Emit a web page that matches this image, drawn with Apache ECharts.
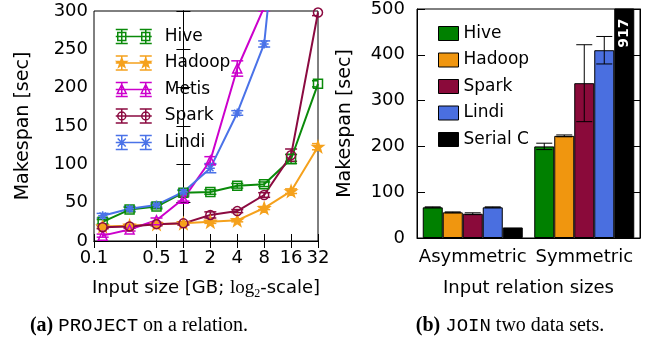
<!DOCTYPE html>
<html>
<head>
<meta charset="utf-8">
<title>Makespan</title>
<script src="https://cdn.jsdelivr.net/npm/echarts@6/dist/echarts.min.js"></script>
<style>
  html, body { margin: 0; padding: 0; background: #fff; }
</style>
</head>
<body>
<div id="box" style="width: 649px; height: 349px;"></div>
<script>
// ---- left: PROJECT, input size in GB (log2 axis) ----
var sizes = [0.125, 0.25, 0.5, 1, 2, 4, 8, 16, 32]
var hive = [25, 41, 45, 63, 64, 72, 74, 107, 205]
var hiveErr = [3, 3, 3, 3, 3, 3, 3, 6, 4]
var hadoop = [19, 20, 22, 23, 25, 27, 43, 65, 123]
var hadoopErr = [2, 2, 2, 2, 2, 2, 2, 3, 4]
var metis = [7, 15, 27, 55, 105, 225, 305]
var metisErr = [2, 2, 3, 3, 5, 10, 5]
var spark = [18, 19, 22, 23, 34, 39, 60, 112, 298]
var sparkErr = [2, 2, 2, 2, 4, 2, 3, 8, 4]
var lindi = [33, 42, 47, 64, 95, 167, 257, 600]
var lindiErr = [3, 3, 3, 3, 6, 3, 4, 10]
var xTickLabels = [0.1, 0.5, 1, 2, 4, 8, 16, 32]

// ---- right: JOIN ----
var joinCats = ['Asymmetric', 'Symmetric']
var joinNames = ['Hive', 'Hadoop', 'Spark', 'Lindi', 'Serial C']
var joinVals = [
  [67, 200],
  [56, 223],
  [53, 338],
  [67, 410],
  [23, 917]
]
var joinErr = [
  [1, 7],
  [1, 2],
  [2, 84],
  [1, 30],
  [0, 0]
]

var FONT = 'DejaVu Sans'
var colors = { Hive: '#0a8a0a', Hadoop: '#f5a11c', Metis: '#cc00cc', Spark: '#8b0a40', Lindi: '#4a72e8' }
var barColors = ['#008000', '#f0960f', '#8a0a3a', '#4a6fe0', '#000000']

var xTickPos = xTickLabels.map(function (v) { return Math.log2(v) })

// marker shapes
var STAR = 'path://M0,-10L2.35,-3.24L9.51,-3.09L3.8,1.24L5.88,8.09L0,4L-5.88,8.09L-3.8,1.24L-9.51,-3.09L-2.35,-3.24Z'
var ASTER = 'path://M0,-5L0,5M-5,0L5,0M-3.5,-3.5L3.5,3.5M-3.5,3.5L3.5,-3.5'

// legend icons: line with two error-barred markers
var ICON_BASE = 'M0,8L36,8M6,1L6,15M0,1L12,1M0,15L12,15M30,1L30,15M24,1L36,1M24,15L36,15'
var icons = {
  Hive: 'path://' + ICON_BASE + 'M2,4L10,4L10,12L2,12ZM26,4L34,4L34,12L26,12Z',
  Hadoop: 'path://' + ICON_BASE + 'M6,3L7.2,6.4L10.8,6.5L7.9,8.6L9,12L6,10L3,12L4.1,8.6L1.2,6.5L4.8,6.4ZM30,3L31.2,6.4L34.8,6.5L31.9,8.6L33,12L30,10L27,12L28.1,8.6L25.2,6.5L28.8,6.4Z',
  Metis: 'path://' + ICON_BASE + 'M6,3L10.5,12L1.5,12ZM30,3L34.5,12L25.5,12Z',
  Spark: 'path://' + ICON_BASE + 'M10,8A4,4 0 1,1 2,8A4,4 0 1,1 10,8ZM34,8A4,4 0 1,1 26,8A4,4 0 1,1 34,8Z',
  Lindi: 'path://' + ICON_BASE + 'M2,4L10,12M2,12L10,4M26,4L34,12M26,12L34,4'
}

function pts(vals) {
  return vals.map(function (v, i) { return [Math.log2(sizes[i]), v] })
}
function errPts(vals, errs) {
  return vals.map(function (v, i) { return [Math.log2(sizes[i]), v, errs[i]] })
}

function lineSeries(name, vals, symbol, filled) {
  var c = colors[name]
  return {
    name: name,
    type: 'line',
    xAxisIndex: 0,
    yAxisIndex: 0,
    data: pts(vals),
    symbol: symbol,
    symbolSize: symbol === STAR ? 11 : 9,
    lineStyle: { color: c, width: 2 },
    itemStyle: { color: filled ? c : 'rgba(0,0,0,0)', borderColor: c, borderWidth: 1.5 },
    emphasis: { disabled: true },
    z: 3
  }
}

function errSeries(name, vals, errs) {
  var c = colors[name]
  return {
    type: 'custom',
    xAxisIndex: 0,
    yAxisIndex: 0,
    clip: true,
    silent: true,
    z: 3,
    data: errPts(vals, errs),
    renderItem: function (params, api) {
      var x = api.value(0), y = api.value(1), e = api.value(2)
      var top = api.coord([x, y + e])
      var bot = api.coord([x, y - e])
      var w = 6
      var st = { stroke: c, lineWidth: 1.5 }
      return {
        type: 'group',
        children: [
          { type: 'line', shape: { x1: top[0], y1: top[1], x2: bot[0], y2: bot[1] }, style: st },
          { type: 'line', shape: { x1: top[0] - w, y1: top[1], x2: top[0] + w, y2: top[1] }, style: st },
          { type: 'line', shape: { x1: bot[0] - w, y1: bot[1], x2: bot[0] + w, y2: bot[1] }, style: st }
        ]
      }
    }
  }
}

var series = [
  lineSeries('Hive', hive, 'rect', false),
  lineSeries('Hadoop', hadoop, STAR, true),
  lineSeries('Metis', metis, 'triangle', false),
  lineSeries('Spark', spark, 'circle', false),
  lineSeries('Lindi', lindi, ASTER, false),
  errSeries('Hive', hive, hiveErr),
  errSeries('Hadoop', hadoop, hadoopErr),
  errSeries('Metis', metis, metisErr),
  errSeries('Spark', spark, sparkErr),
  errSeries('Lindi', lindi, lindiErr)
]

var BAR_W = 20
joinNames.forEach(function (name, s) {
  series.push({
    name: name,
    type: 'bar',
    xAxisIndex: 1,
    yAxisIndex: 1,
    data: joinVals[s],
    barWidth: BAR_W,
    barGap: '0%',
    itemStyle: { color: barColors[s], borderColor: '#000', borderWidth: 1 },
    emphasis: { disabled: true },
    label: {
      show: name === 'Serial C',
      position: 'insideTop',
      distance: 10,
      rotate: 90,
      align: 'right',
      verticalAlign: 'middle',
      color: '#fff',
      fontFamily: FONT,
      fontWeight: 'bold',
      fontSize: 14,
      formatter: function (p) { return p.value > 500 ? String(p.value) : '' }
    }
  })
})

// error bars on the JOIN bars
var joinErrData = []
joinNames.forEach(function (name, s) {
  joinCats.forEach(function (c, i) {
    if (joinErr[s][i] > 0) joinErrData.push([i, joinVals[s][i], joinErr[s][i], s])
  })
})
series.push({
  type: 'custom',
  xAxisIndex: 1,
  yAxisIndex: 1,
  clip: true,
  silent: true,
  z: 4,
  data: joinErrData,
  renderItem: function (params, api) {
    var i = api.value(0), v = api.value(1), e = api.value(2), s = api.value(3)
    var top = api.coord([i, v + e])
    var bot = api.coord([i, v - e])
    var x = top[0] + (s - 2) * BAR_W
    var w = 8
    var st = { stroke: '#000', lineWidth: 1 }
    return {
      type: 'group',
      children: [
        { type: 'line', shape: { x1: x, y1: top[1], x2: x, y2: bot[1] }, style: st },
        { type: 'line', shape: { x1: x - w, y1: top[1], x2: x + w, y2: top[1] }, style: st },
        { type: 'line', shape: { x1: x - w, y1: bot[1], x2: x + w, y2: bot[1] }, style: st }
      ]
    }
  }
})

var axisLine = { show: true, lineStyle: { color: '#000', width: 1 } }
var labelStyle = { color: '#000', fontFamily: FONT, fontSize: 18 }

var mCharts = echarts.init(document.querySelector('#box'))
var option = {
  animation: false,
  backgroundColor: '#fff',
  grid: [
    { left: 94, top: 11, width: 224, height: 230, show: true, borderColor: '#000', borderWidth: 1 },
    { left: 417, top: 8, width: 223, height: 230, show: true, borderColor: '#000', borderWidth: 1 }
  ],
  xAxis: [
    {
      gridIndex: 0,
      type: 'value',
      min: Math.log2(0.1),
      max: 5,
      axisLine: axisLine,
      splitLine: { show: false },
      axisTick: { inside: true, length: 7, lineStyle: { color: '#000' }, customValues: xTickPos },
      axisLabel: Object.assign({
        margin: 8,
        customValues: xTickPos,
        formatter: function (v) {
          for (var k = 0; k < xTickPos.length; k++) {
            if (Math.abs(xTickPos[k] - v) < 1e-6) return String(xTickLabels[k])
          }
          return ''
        }
      }, labelStyle),
      name: 'Input size [GB; {m|log}{s|2}-scale]',
      nameLocation: 'middle',
      nameGap: 35,
      nameTextStyle: {
        color: '#000', fontFamily: FONT, fontSize: 18, lineHeight: 24,
        rich: {
          m: { fontFamily: 'Liberation Serif', fontSize: 19, lineHeight: 24 },
          s: { fontFamily: 'Liberation Serif', fontSize: 12, lineHeight: 24, verticalAlign: 'bottom' }
        }
      }
    },
    {
      gridIndex: 1,
      type: 'category',
      data: joinCats,
      axisLine: axisLine,
      axisTick: { show: false },
      axisLabel: Object.assign({ margin: 10, interval: 0 }, labelStyle),
      name: 'Input relation sizes',
      nameLocation: 'middle',
      nameGap: 41,
      nameTextStyle: { color: '#000', fontFamily: FONT, fontSize: 18 }
    },
    {
      gridIndex: 0,
      type: 'value',
      position: 'top',
      min: Math.log2(0.1),
      max: 5,
      axisLine: axisLine,
      splitLine: { show: false },
      axisTick: { inside: true, length: 7, lineStyle: { color: '#000' }, customValues: xTickPos },
      axisLabel: { show: false }
    }
  ],
  yAxis: [
    {
      gridIndex: 0,
      type: 'value',
      min: 0,
      max: 300,
      interval: 50,
      axisLine: axisLine,
      splitLine: { show: false },
      axisTick: { show: true, inside: true, length: 7, lineStyle: { color: '#000' } },
      axisLabel: Object.assign({ margin: 6 }, labelStyle),
      name: 'Makespan [sec]',
      nameLocation: 'middle',
      nameGap: 61,
      nameTextStyle: { color: '#000', fontFamily: FONT, fontSize: 19 }
    },
    {
      gridIndex: 1,
      type: 'value',
      min: 0,
      max: 500,
      interval: 100,
      axisLine: axisLine,
      splitLine: { show: false },
      axisTick: { show: true, inside: true, length: 8, lineStyle: { color: '#000' } },
      axisLabel: Object.assign({ margin: 12 }, labelStyle),
      name: 'Makespan [sec]',
      nameLocation: 'middle',
      nameGap: 62,
      nameTextStyle: { color: '#000', fontFamily: FONT, fontSize: 19 }
    },
    {
      gridIndex: 0,
      type: 'value',
      position: 'right',
      min: 0,
      max: 300,
      interval: 50,
      axisLine: axisLine,
      splitLine: { show: false },
      axisTick: { show: true, inside: true, length: 7, lineStyle: { color: '#000' } },
      axisLabel: { show: false }
    },
    {
      gridIndex: 1,
      type: 'value',
      position: 'right',
      min: 0,
      max: 500,
      interval: 100,
      axisLine: axisLine,
      splitLine: { show: false },
      axisTick: { show: true, inside: true, length: 8, lineStyle: { color: '#000' } },
      axisLabel: { show: false }
    }
  ],
  legend: [
    {
      orient: 'vertical',
      left: 110,
      top: 23,
      itemWidth: 36,
      itemHeight: 16,
      itemGap: 9.5,
      selectedMode: false,
      textStyle: { color: '#000', fontFamily: FONT, fontSize: 17, padding: [0, 0, 0, 8] },
      data: ['Hive', 'Hadoop', 'Metis', 'Spark', 'Lindi'].map(function (n) {
        return {
          name: n,
          icon: icons[n],
          itemStyle: { color: n === 'Hadoop' ? colors[n] : 'rgba(0,0,0,0)', borderColor: colors[n], borderWidth: 1.5 }
        }
      })
    },
    {
      orient: 'vertical',
      left: 433,
      top: 20,
      itemWidth: 20,
      itemHeight: 14,
      itemGap: 9.5,
      selectedMode: false,
      textStyle: { color: '#000', fontFamily: FONT, fontSize: 17 },
      data: joinNames.map(function (n, s) {
        return { name: n, icon: 'rect', itemStyle: { color: barColors[s], borderColor: '#000', borderWidth: 1 } }
      })
    }
  ],
  graphic: [
    {
      type: 'text', x: 139, y: 326,
      style: {
        text: '{b|(a)} {m|PROJECT} on a relation.',
        align: 'center', verticalAlign: 'middle',
        fontFamily: 'Liberation Serif', fontSize: 20, fill: '#000',
        rich: {
          b: { fontFamily: 'Liberation Serif', fontWeight: 'bold', fontSize: 20 },
          m: { fontFamily: 'Liberation Mono', fontSize: 19 }
        }
      }
    },
    {
      type: 'text', x: 510, y: 326,
      style: {
        text: '{b|(b)} {m|JOIN} two data sets.',
        align: 'center', verticalAlign: 'middle',
        fontFamily: 'Liberation Serif', fontSize: 20, fill: '#000',
        rich: {
          b: { fontFamily: 'Liberation Serif', fontWeight: 'bold', fontSize: 20 },
          m: { fontFamily: 'Liberation Mono', fontSize: 19 }
        }
      }
    }
  ],
  series: series
}
mCharts.setOption(option)
</script>
</body>
</html>
